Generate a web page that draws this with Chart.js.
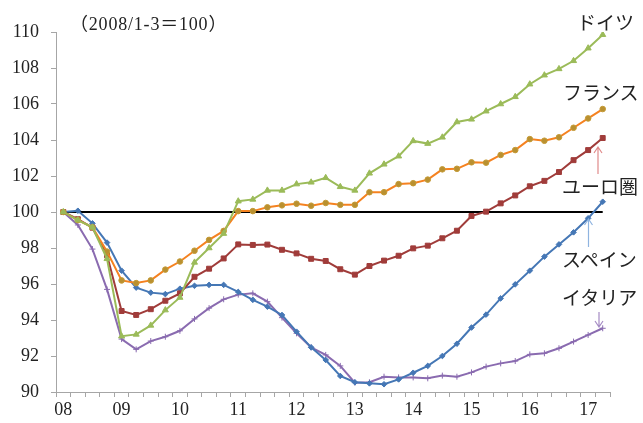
<!DOCTYPE html>
<html lang="ja">
<head>
<meta charset="utf-8">
<script src="https://cdn.jsdelivr.net/npm/chart.js@4.4.0/dist/chart.umd.min.js"></script>
<style>
    body { margin: 0; background: #fff; }
    #wrap { position: relative; width: 643px; height: 423px; }
    .lbl { position: absolute; font-family: "Noto Sans CJK JP", sans-serif; font-size: 19px; color: #222; white-space: nowrap; line-height: 1; }
</style>
</head>
<body>
<div id="wrap">
    <canvas id="myChart" width="643" height="423"></canvas>
    <div class="lbl" style="left:70px; top:15px; font-size:18px; letter-spacing:0.8px; font-family:'Liberation Serif','Noto Sans CJK JP',serif;">（2008/1-3＝100）</div>
    <div class="lbl" style="left:577px; top:12px;">ドイツ</div>
    <div class="lbl" style="left:563px; top:82px;">フランス</div>
    <div class="lbl" style="left:562px; top:176px;">ユーロ圏</div>
    <div class="lbl" style="left:562px; top:249px;">スペイン</div>
    <div class="lbl" style="left:562px; top:287px;">イタリア</div>
</div>
<script>
const anos = ['08', '09', '10', '11', '12', '13', '14', '15', '16', '17'];

const alemanha = [100, 99.55, 99.15, 97.4, 93.1, 93.2, 93.7, 94.55, 95.25, 97.2, 98.0, 98.8, 100.6, 100.7, 101.2, 101.2, 101.55, 101.65, 101.9, 101.4, 101.2, 102.15, 102.65, 103.1, 103.95, 103.8, 104.15, 105.0, 105.15, 105.6, 106.0, 106.4, 107.1, 107.6, 107.95, 108.4, 109.1, 109.85];
const franca = [100, 99.55, 99.15, 97.8, 96.2, 96.05, 96.2, 96.8, 97.25, 97.85, 98.45, 98.95, 100.05, 100.05, 100.26, 100.37, 100.46, 100.35, 100.5, 100.4, 100.4, 101.1, 101.1, 101.55, 101.6, 101.8, 102.37, 102.4, 102.76, 102.74, 103.17, 103.44, 104.05, 103.96, 104.15, 104.68, 105.2, 105.72];
const zonaEuro = [100, 99.6, 99.13, 97.6, 94.5, 94.28, 94.6, 95.07, 95.48, 96.4, 96.85, 97.42, 98.2, 98.17, 98.19, 97.9, 97.7, 97.4, 97.28, 96.82, 96.52, 97.0, 97.3, 97.57, 97.98, 98.13, 98.54, 98.96, 99.78, 100.02, 100.48, 100.92, 101.43, 101.73, 102.22, 102.88, 103.44, 104.11];
const espanha = [100, 100.07, 99.37, 98.3, 96.74, 95.8, 95.52, 95.44, 95.74, 95.9, 95.95, 95.95, 95.56, 95.12, 94.74, 94.28, 93.35, 92.48, 91.78, 90.89, 90.54, 90.48, 90.43, 90.7, 91.07, 91.45, 92.0, 92.68, 93.58, 94.3, 95.2, 95.98, 96.74, 97.52, 98.2, 98.87, 99.65, 100.57];
const italia = [100, 99.28, 97.94, 95.7, 92.94, 92.37, 92.83, 93.07, 93.4, 94.06, 94.66, 95.15, 95.41, 95.48, 95.02, 94.13, 93.26, 92.48, 92.06, 91.45, 90.52, 90.54, 90.85, 90.81, 90.81, 90.76, 90.91, 90.85, 91.09, 91.41, 91.59, 91.72, 92.09, 92.15, 92.43, 92.8, 93.17, 93.54];

// 2008Q1 .. 2017Q2
let trimestres = [];
anos.forEach(function(a) {
    for (let q = 1; q <= 4; q++) trimestres.push(a + '/' + q);
});
trimestres = trimestres.slice(0, alemanha.length);
const base = trimestres.map(function() { return 100; });

// setas das anotações
const setas = {
    id: 'setas',
    afterDraw: function(chart) {
        let ctx = chart.ctx;
        function seta(x, y1, y2, cor) {
            let d = y2 < y1 ? 1 : -1;
            ctx.save();
            ctx.strokeStyle = cor;
            ctx.lineWidth = 1.2;
            ctx.beginPath();
            ctx.moveTo(x, y1);
            ctx.lineTo(x, y2);
            ctx.moveTo(x - 4, y2 + 6 * d);
            ctx.lineTo(x, y2);
            ctx.lineTo(x + 4, y2 + 6 * d);
            ctx.stroke();
            ctx.restore();
        }
        seta(598, 174, 147, '#E08A8A');
        seta(588.5, 247, 219, '#8FB4E0');
        seta(599, 312, 327, '#A58BC4');
    }
};

let ctx = document.getElementById('myChart').getContext('2d');
const config = {
    type: 'line',
    data: {
        labels: trimestres,
        datasets: [
            {
                label: 'ドイツ',
                data: alemanha,
                borderColor: '#9BBB59',
                backgroundColor: '#9BBB59',
                pointStyle: 'triangle',
                pointRadius: 3.5,
            },
            {
                label: 'フランス',
                data: franca,
                borderColor: '#F58220',
                backgroundColor: '#B99030',
                pointBorderColor: '#C49A36',
                pointStyle: 'circle',
                pointRadius: 2.8,
            },
            {
                label: 'ユーロ圏',
                data: zonaEuro,
                borderColor: '#A03C3A',
                backgroundColor: '#A03C3A',
                pointStyle: 'rect',
                pointRadius: 3.5,
            },
            {
                label: 'スペイン',
                data: espanha,
                borderColor: '#4577B5',
                backgroundColor: '#4577B5',
                pointStyle: 'rectRot',
                pointRadius: 2.8,
            },
            {
                label: 'イタリア',
                data: italia,
                borderColor: '#8A6BB0',
                backgroundColor: '#8A6BB0',
                pointStyle: 'cross',
                pointRadius: 3,
            },
            {
                label: '100',
                data: base,
                borderColor: '#000',
                borderWidth: 2,
                pointRadius: 0,
            }
        ]
    },
    options: {
        responsive: false,
        animation: false,
        layout: { padding: { left: 0, right: 33, top: 32, bottom: 0 } },
        elements: {
            line: { borderWidth: 2, tension: 0 },
            point: { borderWidth: 1 }
        },
        plugins: {
            legend: { display: false },
            tooltip: { enabled: false }
        },
        scales: {
            x: {
                offset: true,
                grid: { offset: true, drawOnChartArea: false, tickLength: 5, color: '#A6A6A6' },
                border: { color: '#A6A6A6' },
                ticks: {
                    autoSkip: false,
                    maxRotation: 0,
                    padding: 2,
                    color: '#222',
                    font: { family: 'Liberation Serif', size: 18 },
                    callback: function(val, i) { return i % 4 === 0 ? anos[i / 4] : ''; }
                },
                afterFit: function(s) { s.height = 31; }
            },
            y: {
                min: 90,
                max: 110,
                grid: { drawOnChartArea: false, tickLength: 5, color: '#A6A6A6' },
                border: { color: '#A6A6A6' },
                ticks: {
                    stepSize: 2,
                    padding: 12,
                    color: '#222',
                    font: { family: 'Liberation Serif', size: 18 }
                },
                afterFit: function(s) { s.width = 56; }
            }
        }
    },
    plugins: [setas]
};
new Chart(ctx, config);
</script>
</body>
</html>
